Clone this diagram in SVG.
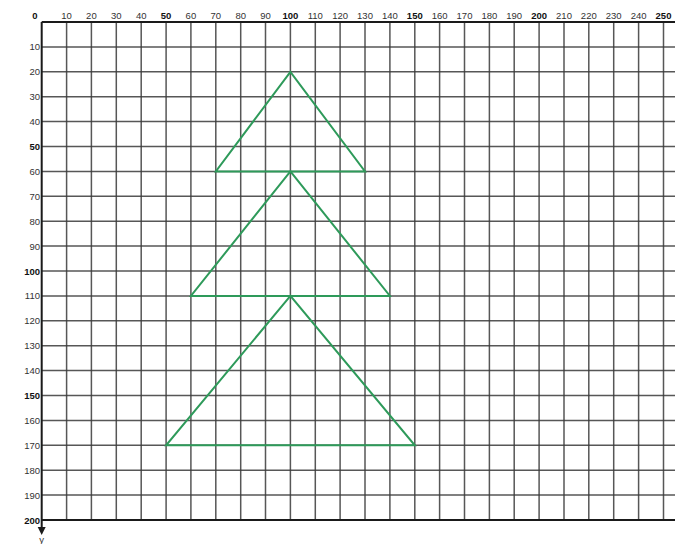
<svg xmlns="http://www.w3.org/2000/svg" width="683" height="544" viewBox="0 0 683 544">
<style>
.grid{stroke:#3a3a3a;stroke-width:1.5;fill:none;opacity:0.85}
.axis{stroke:#1a1a1a;stroke-width:2;fill:none}
.tri{stroke:#2e9a5a;stroke-width:2;fill:none;stroke-linejoin:miter}
text{font-family:"Liberation Sans",Arial,sans-serif;font-size:9.5px;fill:#333}
.top{text-anchor:middle}
.left{text-anchor:end}
.b{font-weight:bold;fill:#111}
</style>
<rect width="683" height="544" fill="#fff"/>
<g id="grid">
<path class="grid" d="M66.6 22V520M91.4 22V520M116.3 22V520M141.2 22V520M166.1 22V520M190.9 22V520M215.8 22V520M240.7 22V520M265.5 22V520M290.4 22V520M315.3 22V520M340.1 22V520M365 22V520M389.9 22V520M414.8 22V520M439.6 22V520M464.5 22V520M489.4 22V520M514.2 22V520M539.1 22V520M564 22V520M588.8 22V520M613.7 22V520M638.6 22V520M663.5 22V520"/>
<path class="grid" d="M41.7 46.9H675M41.7 71.8H675M41.7 96.7H675M41.7 121.6H675M41.7 146.5H675M41.7 171.4H675M41.7 196.3H675M41.7 221.2H675M41.7 246.1H675M41.7 271H675M41.7 295.9H675M41.7 320.8H675M41.7 345.7H675M41.7 370.6H675M41.7 395.5H675M41.7 420.4H675M41.7 445.3H675M41.7 470.2H675M41.7 495.1H675"/>
<path class="axis" d="M41.7 22H675M41.7 520H675M41.7 22V529"/>
<path d="M37.7 527L41.7 535L45.7 527Z" fill="#1a1a1a"/>
</g>
<g id="top-labels">
<text class="top b" x="35" y="19">0</text>
<text class="top" x="66.6" y="19">10</text>
<text class="top" x="91.4" y="19">20</text>
<text class="top" x="116.3" y="19">30</text>
<text class="top" x="141.2" y="19">40</text>
<text class="top b" x="166.1" y="19">50</text>
<text class="top" x="190.9" y="19">60</text>
<text class="top" x="215.8" y="19">70</text>
<text class="top" x="240.7" y="19">80</text>
<text class="top" x="265.5" y="19">90</text>
<text class="top b" x="290.4" y="19">100</text>
<text class="top" x="315.3" y="19">110</text>
<text class="top" x="340.1" y="19">120</text>
<text class="top" x="365" y="19">130</text>
<text class="top" x="389.9" y="19">140</text>
<text class="top b" x="414.8" y="19">150</text>
<text class="top" x="439.6" y="19">160</text>
<text class="top" x="464.5" y="19">170</text>
<text class="top" x="489.4" y="19">180</text>
<text class="top" x="514.2" y="19">190</text>
<text class="top b" x="539.1" y="19">200</text>
<text class="top" x="564" y="19">210</text>
<text class="top" x="588.8" y="19">220</text>
<text class="top" x="613.7" y="19">230</text>
<text class="top" x="638.6" y="19">240</text>
<text class="top b" x="663.5" y="19">250</text>
</g>
<g id="left-labels">
<text class="left" x="40" y="50.4">10</text>
<text class="left" x="40" y="75.3">20</text>
<text class="left" x="40" y="100.2">30</text>
<text class="left" x="40" y="125.1">40</text>
<text class="left b" x="40" y="150">50</text>
<text class="left" x="40" y="174.9">60</text>
<text class="left" x="40" y="199.8">70</text>
<text class="left" x="40" y="224.7">80</text>
<text class="left" x="40" y="249.6">90</text>
<text class="left b" x="40" y="274.5">100</text>
<text class="left" x="40" y="299.4">110</text>
<text class="left" x="40" y="324.3">120</text>
<text class="left" x="40" y="349.2">130</text>
<text class="left" x="40" y="374.1">140</text>
<text class="left b" x="40" y="399">150</text>
<text class="left" x="40" y="423.9">160</text>
<text class="left" x="40" y="448.8">170</text>
<text class="left" x="40" y="473.7">180</text>
<text class="left" x="40" y="498.6">190</text>
<text class="left b" x="40" y="523.5">200</text>
<text class="top" x="41.7" y="543">y</text>
</g>
<g id="triangle-top"><polygon class="tri" points="290.4,71.8 215.8,171.4 365,171.4"/></g>
<g id="triangle-middle"><polygon class="tri" points="290.4,171.4 190.9,295.9 389.9,295.9"/></g>
<g id="triangle-bottom"><polygon class="tri" points="290.4,295.9 166.1,445.3 414.8,445.3"/></g>
</svg>
